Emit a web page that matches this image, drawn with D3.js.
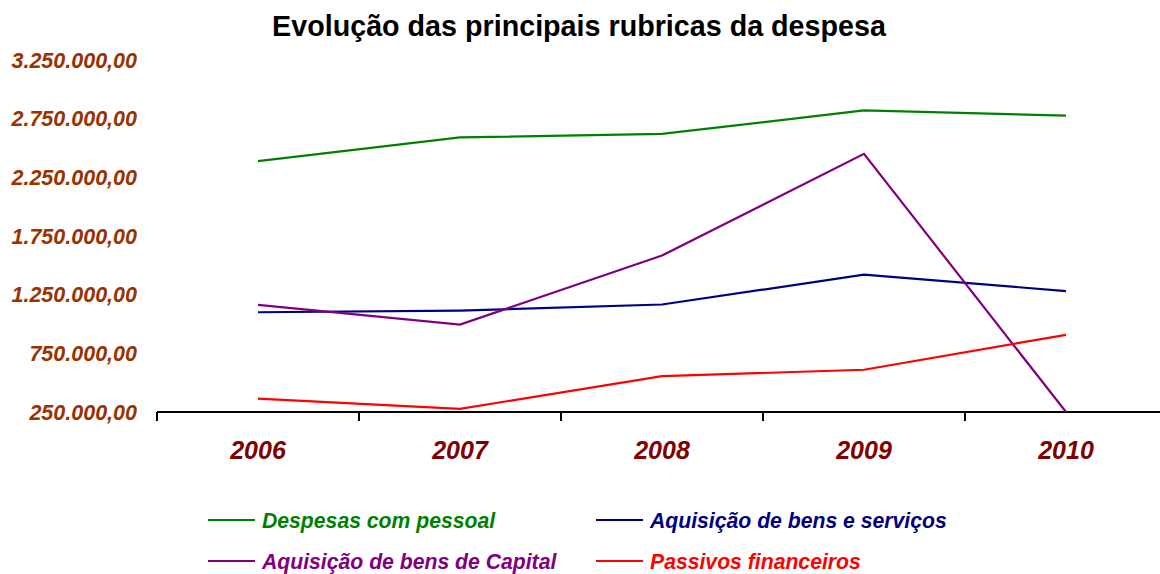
<!DOCTYPE html>
<html><head><meta charset="utf-8">
<script src="https://cdn.jsdelivr.net/npm/d3@7"></script>
<style>body{margin:0;background:#fff}svg{display:block}</style>
</head><body>
<script>
const years = ["2006","2007","2008","2009","2010"];
const despesasPessoal = [2388000, 2590000, 2620000, 2820000, 2776000];
const bensServicos = [1100000, 1114000, 1166000, 1420000, 1281000];
const bensCapital = [1163000, 995000, 1583000, 2450000, 250000];
const passivosFinanceiros = [364000, 277000, 555000, 610000, 908000];
const yTicks = [250000, 750000, 1250000, 1750000, 2250000, 2750000, 3250000];
const seriesNames = ["Despesas com pessoal","Aquisição de bens e serviços","Aquisição de bens de Capital","Passivos financeiros"];
const seriesColors = ["#008000","#000080","#800080","#FF0000"];
const seriesValues = [despesasPessoal, bensServicos, bensCapital, passivosFinanceiros];

const W = 1160, H = 574;
const svg = d3.select("body").append("svg").attr("width", W).attr("height", H);
const font = "'Liberation Sans', Arial, sans-serif";

const x = d3.scaleBand().domain(years).range([157, 1167]);
const y = d3.scaleLinear().domain([250000, 3250000]).range([412, 60]);

svg.append("text").attr("x", 579).attr("y", 36).attr("text-anchor", "middle")
  .attr("font-family", font).attr("font-weight", "bold").attr("font-size", 28.7)
  .attr("fill", "#000").text("Evolução das principais rubricas da despesa");

const fmt = v => d3.format(",.2f")(v).replace(/,/g, "#").replace(".", ",").replace(/#/g, ".");

// Y labels
svg.append("g").selectAll("text").data(yTicks).join("text")
  .attr("x", 137).attr("y", d => y(d)).attr("dy", "0.36em")
  .attr("text-anchor", "end").attr("font-family", font).attr("font-weight", "bold")
  .attr("font-style", "italic").attr("font-size", 21.5).attr("fill", "#993300")
  .text(fmt);

// X axis
const xAxis = svg.append("g").attr("transform", "translate(0,412)");
xAxis.append("line").attr("x1", 157).attr("x2", 1160).attr("stroke", "#000").attr("stroke-width", 2);
const tickPos = years.map(d => x(d)).concat([x(years[years.length-1]) + x.bandwidth()]);
xAxis.selectAll("line.t").data(tickPos.filter(p => p <= 1160)).join("line").attr("class","t")
  .attr("x1", d => d).attr("x2", d => d).attr("y1", 0).attr("y2", 9)
  .attr("stroke", "#000").attr("stroke-width", 2);
svg.append("g").selectAll("text").data(years).join("text")
  .attr("x", d => x(d) + x.bandwidth()/2).attr("y", 459)
  .attr("text-anchor", "middle").attr("font-family", font).attr("font-weight", "bold")
  .attr("font-style", "italic").attr("font-size", 25).attr("fill", "#800000").text(d => d);

// Lines
const line = d3.line().x((d, i) => x(years[i]) + x.bandwidth()/2).y(d => y(d));
svg.append("defs").append("clipPath").attr("id", "clip").append("rect")
  .attr("x", 0).attr("y", 0).attr("width", W).attr("height", 412);
svg.append("g").attr("clip-path", "url(#clip)").selectAll("path").data(seriesValues).join("path")
  .attr("d", line).attr("fill", "none").attr("stroke", (d, i) => seriesColors[i])
  .attr("stroke-width", 2.2);

// Legend
const legPos = [[208, 520], [596, 520], [208, 561], [596, 561]];
const leg = svg.append("g").selectAll("g").data(seriesNames).join("g")
  .attr("transform", (d, i) => `translate(${legPos[i][0]},${legPos[i][1]})`);
leg.append("line").attr("x1", 0).attr("x2", 47).attr("stroke", (d, i) => seriesColors[i]).attr("stroke-width", 2.2);
leg.append("text").attr("x", 54).attr("dy", "0.36em").attr("font-family", font)
  .attr("font-weight", "bold").attr("font-style", "italic").attr("font-size", 21.2)
  .attr("fill", (d, i) => seriesColors[i]).text(d => d);
</script>
</body></html>
